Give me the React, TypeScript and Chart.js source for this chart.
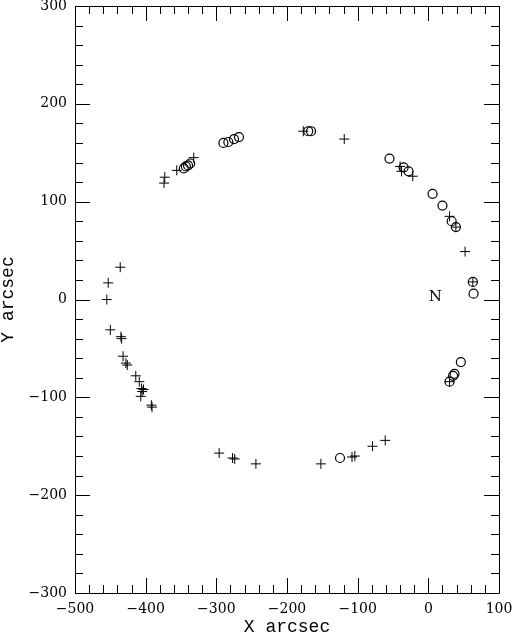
import React, { useEffect, useRef } from "react";
import { Chart, registerables } from "chart.js";

Chart.register(...registerables);

const plusX = [-119, -177, -332, -356, -373, -374, -436, -453, -455, -450, -435, -434, -432, -428, -426, -414, -409, -406, -403, -405, -407, -392, -391, -296, -277, -274, -244, -152, -108, -104, -79, -61, -40, -38, -22, 30, 39, 52, 63, 30];
const plusY = [164, 172, 145, 132, 125, 119, 33, 17, 0, -31, -38, -40, -58, -65, -67, -78, -84, -91, -92, -94, -99, -108, -110, -157, -162, -163, -168, -168, -161, -160, -150, -144, 136, 131, 126, 85, 74, 49, 18, -84];

const circX = [-170, -166, -290, -283, -275, -268, -346, -343, -340, -337, -125, -55, -35, -28, 6, 20, 33, 39, 63, 64, 46, 37, 35, 30];
const circY = [172, 172, 160, 161, 164, 166, 134, 136, 137, 139, -162, 144, 135, 131, 108, 96, 80, 74, 18, 6, -64, -76, -78, -84];

const xMin = -500, xMax = 100, yMin = -300, yMax = 300;
const majorStep = 100, minorStep = 20;
const xTitle = "X arcsec";
const yTitle = "Y arcsec";
const noteText = "N";
const noteX = 10, noteY = 2;

const FONT = "'DejaVu Serif', serif";
const TITLE_FONT = "'Liberation Mono', 'DejaVu Sans Mono', monospace";

const fmt = (v: number) => (v < 0 ? "\u2212" + Math.abs(v) : String(v));

const framePlugin = {
  id: "frameTicks",
  afterDraw(chart: any) {
    const { ctx, chartArea: a, scales } = chart;
    const xs = scales.x, ys = scales.y;
    ctx.save();
    ctx.strokeStyle = "#000";
    ctx.lineWidth = 1;
    ctx.beginPath();
    ctx.rect(Math.round(a.left) + 0.5, Math.round(a.top) + 0.5, Math.round(a.right - a.left), Math.round(a.bottom - a.top));
    ctx.stroke();
    ctx.beginPath();
    for (let v = xMin; v <= xMax; v += minorStep) {
      const px = Math.round(xs.getPixelForValue(v)) + 0.5;
      const len = v % majorStep === 0 ? 15 : 8;
      ctx.moveTo(px, a.bottom); ctx.lineTo(px, a.bottom - len);
      ctx.moveTo(px, a.top); ctx.lineTo(px, a.top + len);
    }
    for (let v = yMin; v <= yMax; v += minorStep) {
      const py = Math.round(ys.getPixelForValue(v)) + 0.5;
      const len = v % majorStep === 0 ? 15 : 8;
      ctx.moveTo(a.left, py); ctx.lineTo(a.left + len, py);
      ctx.moveTo(a.right, py); ctx.lineTo(a.right - len, py);
    }
    ctx.stroke();
    ctx.fillStyle = "#000";
    ctx.font = "15px " + FONT;
    ctx.textAlign = "center";
    ctx.textBaseline = "middle";
    ctx.fillText(noteText, xs.getPixelForValue(noteX), ys.getPixelForValue(noteY));
    ctx.restore();
  },
};

export default function App() {
  const ref = useRef<HTMLCanvasElement | null>(null);
  useEffect(() => {
    if (!ref.current) return;
    const chart = new Chart(ref.current, {
      type: "scatter",
      data: {
        datasets: [
          {
            data: plusX.map((x, i) => ({ x, y: plusY[i] })),
            pointStyle: "cross",
            pointRadius: 5,
            borderColor: "#000",
            backgroundColor: "#000",
            borderWidth: 1,
          },
          {
            data: circX.map((x, i) => ({ x, y: circY[i] })),
            pointStyle: "circle",
            pointRadius: 4.5,
            borderColor: "#000",
            backgroundColor: "rgba(0,0,0,0)",
            borderWidth: 1.2,
          },
        ],
      },
      options: {
        animation: false,
        responsive: false,
        devicePixelRatio: 1,
        layout: { padding: { top: 6, right: 13, left: 0, bottom: 0 } },
        plugins: { legend: { display: false }, tooltip: { enabled: false } },
        scales: {
          x: {
            type: "linear",
            min: xMin,
            max: xMax,
            grid: { display: false, drawTicks: false },
            border: { display: false },
            ticks: {
              stepSize: majorStep,
              padding: 8,
              color: "#000",
              font: { family: FONT, size: 14 },
              maxRotation: 0,
              callback: (v: any) => fmt(Number(v)),
            },
            title: { display: true, text: xTitle, color: "#000", font: { family: TITLE_FONT, size: 18 }, padding: { top: 0, bottom: -2 } },
            afterFit: (s: any) => { s.height = 43; s.paddingLeft = 0; s.paddingRight = 0; },
          },
          y: {
            type: "linear",
            min: yMin,
            max: yMax,
            grid: { display: false, drawTicks: false },
            border: { display: false },
            ticks: {
              stepSize: majorStep,
              padding: 8,
              color: "#000",
              font: { family: FONT, size: 14 },
              callback: (v: any) => fmt(Number(v)),
            },
            title: { display: true, text: yTitle, color: "#000", font: { family: TITLE_FONT, size: 18 }, padding: { top: -3, bottom: 0 } },
            afterFit: (s: any) => { s.width = 75; s.paddingTop = 0; s.paddingBottom = 0; },
          },
        },
      },
      plugins: [framePlugin],
    } as any);
    return () => chart.destroy();
  }, []);
  return (
    <div style={{ position: "fixed", left: 0, top: 0, width: 512, height: 636, background: "#fff" }}>
      <canvas ref={ref} width={512} height={636} style={{ width: 512, height: 636 }} />
    </div>
  );
}
